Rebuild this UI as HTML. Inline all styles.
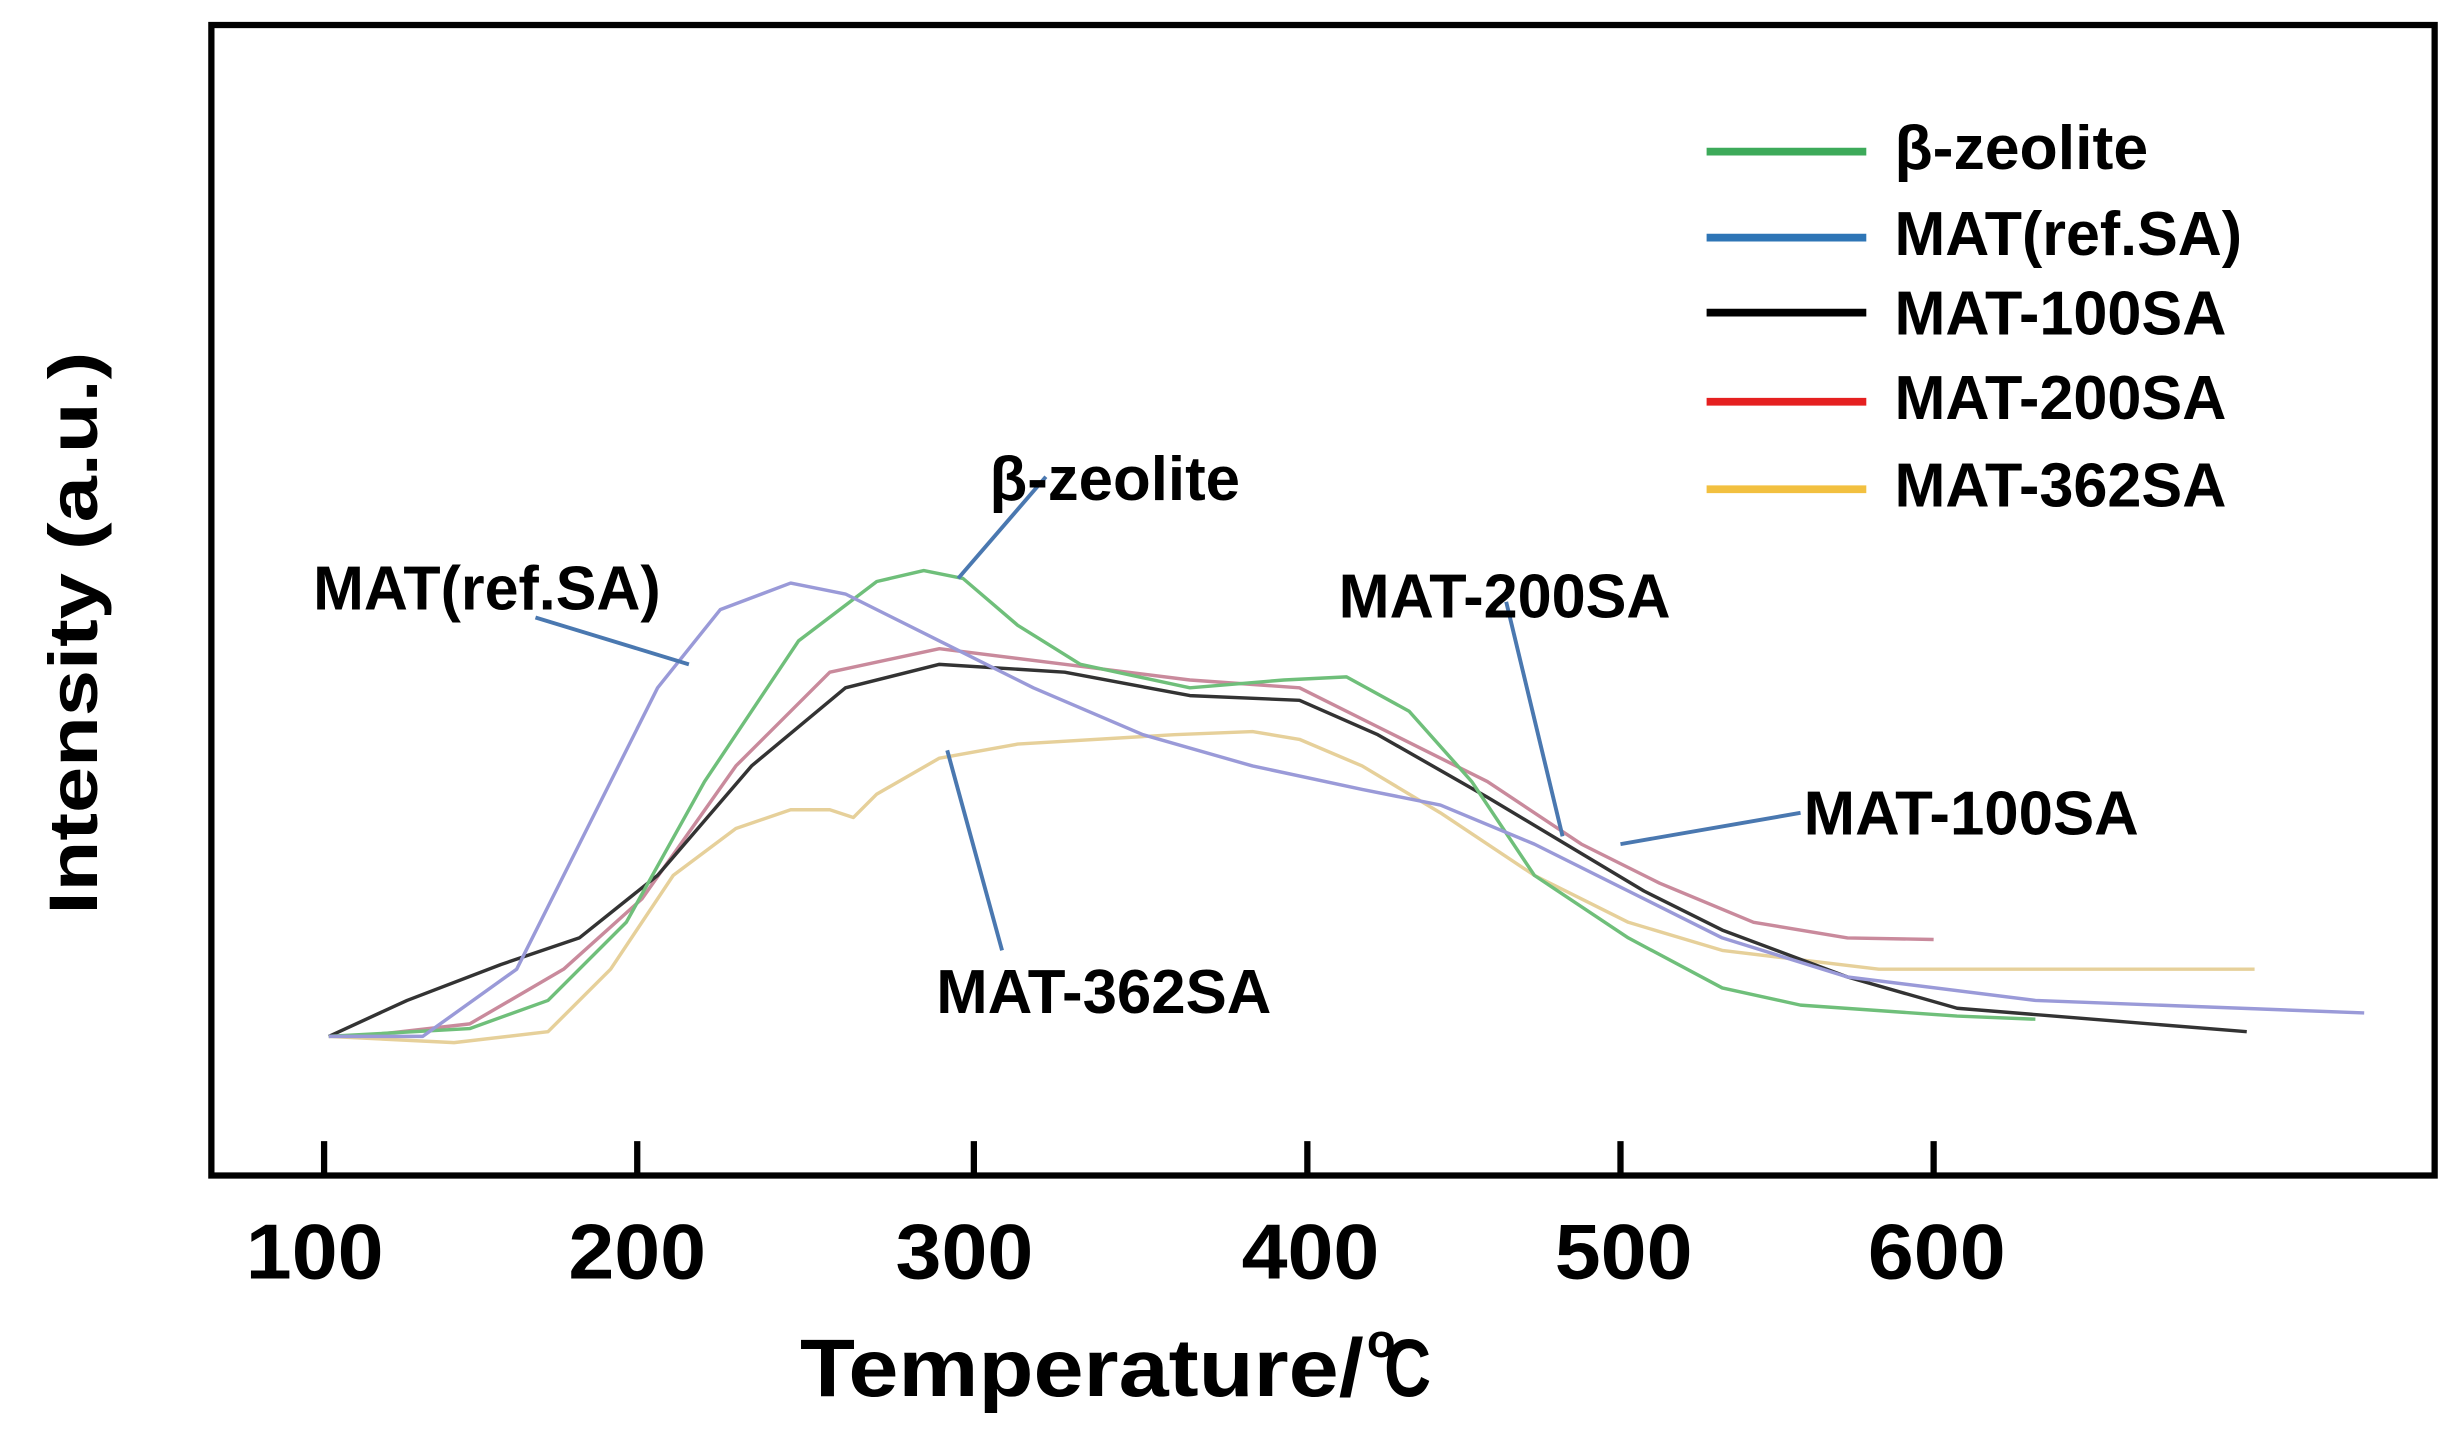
<!DOCTYPE html>
<html><head><style>html,body{margin:0;padding:0;background:#fff}svg{display:block}</style></head>
<body>
<svg width="2455" height="1435" viewBox="0 0 1568 918" preserveAspectRatio="none" xmlns="http://www.w3.org/2000/svg">
<rect width="1568" height="918" fill="#fff"/>
<g fill="none" stroke="#000" stroke-width="4">
<rect x="135" y="16" width="1420" height="736"/>
<path d="M207 730V752M407 730V752M622 730V752M835 730V752M1035 730V752M1235 730V752"/>
</g>
<g font-family="Liberation Sans, sans-serif" font-weight="bold" font-size="50" fill="#000" lengthAdjust="spacingAndGlyphs">
<text x="157" y="818" textLength="88" lengthAdjust="spacingAndGlyphs">100</text>
<text x="363" y="818" textLength="88" lengthAdjust="spacingAndGlyphs">200</text>
<text x="572" y="818" textLength="88" lengthAdjust="spacingAndGlyphs">300</text>
<text x="793" y="818" textLength="88" lengthAdjust="spacingAndGlyphs">400</text>
<text x="993" y="818" textLength="88" lengthAdjust="spacingAndGlyphs">500</text>
<text x="1193" y="818" textLength="88" lengthAdjust="spacingAndGlyphs">600</text>
<text x="511" y="893" font-size="52" textLength="360" lengthAdjust="spacingAndGlyphs">Temperature/</text>
<text x="873" y="868" font-size="30">o</text>
<text x="884" y="893" font-size="52" textLength="30" lengthAdjust="spacingAndGlyphs">C</text>
<text transform="translate(62,585) rotate(-90)" font-size="44" textLength="360" lengthAdjust="spacingAndGlyphs">Intensity (a.u.)</text>
</g>
<g fill="none" stroke-width="2.2" stroke-linejoin="round">
<polyline stroke="#e6d09a" points="210,663 290,667 350,660 390,620 430,560 470,530 505,518 530,518 545,523 560,508 600,485 650,476 750,470 800,468 830,473 870,490 920,520 980,560 1040,590 1100,608 1200,620 1440,620"/>
<polyline stroke="#c98a9c" points="230,663 300,655 360,620 410,575 470,490 530,430 600,415 680,425 760,435 830,440 880,465 950,500 1010,540 1060,565 1120,590 1180,600 1235,601"/>
<polyline stroke="#333" points="210,663 260,640 320,617 370,600 420,560 480,490 540,440 600,425 680,430 760,445 830,448 880,470 950,510 1000,540 1050,570 1100,595 1180,625 1250,645 1435,660"/>
<polyline stroke="#6fbf7a" points="210,663 300,658 350,640 400,590 450,500 510,410 560,372 590,365 615,370 650,400 690,425 760,440 820,435 860,433 900,455 940,500 980,560 1040,600 1100,632 1150,643 1250,650 1300,652"/>
<polyline stroke="#9a9ad8" points="210,663 270,663 330,620 380,520 420,440 460,390 505,373 540,380 600,410 660,440 730,470 800,490 870,505 920,515 980,540 1040,570 1100,600 1180,625 1300,640 1510,648"/>
</g>
<g stroke="#4a78b0" stroke-width="2.5">
<line x1="342" y1="395" x2="440" y2="425"/><line x1="612" y1="370" x2="668" y2="305"/>
<line x1="962" y1="385" x2="998" y2="535"/><line x1="1035" y1="540" x2="1150" y2="520"/>
<line x1="605" y1="480" x2="640" y2="608"/>
</g>
<g stroke-width="5">
<line x1="1090" y1="97" x2="1192" y2="97" stroke="#3daa5a"/>
<line x1="1090" y1="152" x2="1192" y2="152" stroke="#2e75b6"/>
<line x1="1090" y1="200" x2="1192" y2="200" stroke="#000"/>
<line x1="1090" y1="257" x2="1192" y2="257" stroke="#e52020"/>
<line x1="1090" y1="313" x2="1192" y2="313" stroke="#f2c040"/>
</g>
<g font-family="Liberation Sans, sans-serif" font-weight="bold" font-size="40" fill="#000">
<text x="1210" y="108" textLength="162" lengthAdjust="spacingAndGlyphs">β-zeolite</text>
<text x="1210" y="163" textLength="222" lengthAdjust="spacingAndGlyphs">MAT(ref.SA)</text>
<text x="1210" y="214" textLength="212" lengthAdjust="spacingAndGlyphs">MAT-100SA</text>
<text x="1210" y="268" textLength="212" lengthAdjust="spacingAndGlyphs">MAT-200SA</text>
<text x="1210" y="324" textLength="212" lengthAdjust="spacingAndGlyphs">MAT-362SA</text>
<text x="200" y="390" textLength="222" lengthAdjust="spacingAndGlyphs">MAT(ref.SA)</text>
<text x="632" y="320" textLength="160" lengthAdjust="spacingAndGlyphs">β-zeolite</text>
<text x="855" y="395" textLength="212" lengthAdjust="spacingAndGlyphs">MAT-200SA</text>
<text x="1152" y="534" textLength="214" lengthAdjust="spacingAndGlyphs">MAT-100SA</text>
<text x="598" y="648" textLength="214" lengthAdjust="spacingAndGlyphs">MAT-362SA</text>
</g>
</svg>
</body></html>
